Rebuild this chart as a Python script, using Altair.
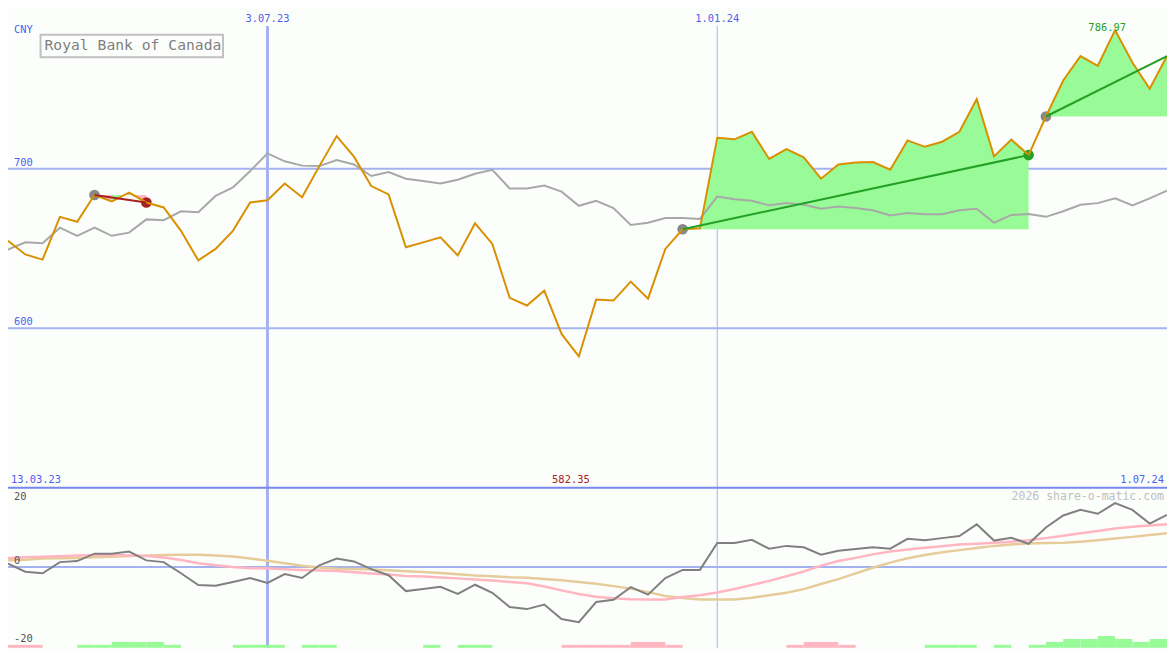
import altair as alt
import pandas as pd

W, H = 1167, 642
SX, SY = W / 1175, H / 650

currency = "CNY"
company = "Royal Bank of Canada"
watermark = "2026 share-o-matic.com"
first_week = "2023-03-20"
n_weeks = 68
dates = pd.date_range(first_week, periods=n_weeks, freq="7D").strftime("%Y-%m-%dT00:00:00").tolist()

price = [654.9, 646.3, 643.1, 669.9, 666.8, 683.6, 679.5, 685.1, 678.9, 675.8,
         661.1, 642.6, 649.8, 661.1, 678.9, 680.3, 690.8, 682.2, 701.7, 720.5,
         707.6, 689.2, 684.0, 650.8, 653.9, 657.0, 645.7, 665.8, 652.9, 619.1,
         614.3, 623.6, 596.5, 582.35, 618.0, 617.4, 629.3, 618.6, 649.8, 662.1,
         662.7, 719.5, 718.5, 723.2, 706.2, 712.3, 707.2, 693.8, 702.7, 703.9,
         704.2, 699.4, 717.8, 713.8, 717.0, 723.2, 743.7, 707.8, 718.3, 708.6,
         732.8, 755.4, 770.7, 764.6, 786.97, 766.7, 750.2, 770.7]

compare = [649.4, 653.9, 653.3, 663.1, 658.0, 663.1, 658.0, 660.0, 668.3, 667.8,
           673.4, 672.8, 683.0, 688.3, 698.6, 709.7, 704.7, 702.0, 701.7, 705.5,
           702.7, 695.5, 698.0, 693.8, 692.4, 690.8, 693.2, 696.9, 699.4, 687.7,
           687.7, 689.5, 685.7, 676.8, 680.0, 675.4, 664.8, 666.2, 669.2, 669.2,
           668.6, 682.6, 680.9, 680.0, 677.1, 678.5, 677.5, 675.0, 676.4, 675.4,
           674.0, 670.7, 672.3, 671.5, 671.5, 674.0, 675.0, 666.2, 671.1, 671.7,
           669.9, 673.4, 677.5, 678.5, 681.5, 677.1, 681.5, 686.3]

momentum = [1.0, -1.3, -1.75, 1.4, 1.7, 3.8, 3.8, 4.4, 1.9, 1.4,
            -1.75, -5.1, -5.3, -4.2, -3.1, -4.5, -2.0, -3.1, 0.5, 2.4,
            1.6, -0.6, -2.3, -6.8, -6.2, -5.6, -7.6, -5.0, -7.3, -11.3,
            -11.9, -10.6, -14.7, -15.6, -9.9, -9.25, -5.7, -7.8, -3.1, -0.8,
            -0.8, 6.8, 6.8, 7.7, 5.2, 6.0, 5.6, 3.5, 4.6, 5.1,
            5.6, 5.2, 8.0, 7.6, 8.2, 8.8, 12.1, 7.5, 8.3, 6.6,
            11.2, 14.6, 16.2, 15.1, 18.1, 16.2, 12.3, 14.8]

ma_fast = [2.6, 2.75, 2.9, 3.1, 3.3, 3.4, 3.5, 3.3, 3.1, 2.7,
           2.0, 1.1, 0.5, 0.0, -0.3, -0.4, -0.6, -0.8, -1.0, -1.1,
           -1.45, -1.8, -2.1, -2.5, -2.7, -2.95, -3.2, -3.5, -3.8, -4.2,
           -4.6, -5.5, -6.6, -7.6, -8.4, -8.8, -9.1, -9.2, -9.2, -8.5,
           -8.0, -7.2, -6.2, -5.1, -3.9, -2.6, -1.25, 0.4, 1.7, 2.6,
           3.6, 4.4, 5.0, 5.5, 5.9, 6.4, 6.6, 6.9, 7.2, 7.6,
           8.2, 8.9, 9.6, 10.2, 10.9, 11.4, 11.75, 12.1]

ma_slow = [1.9, 2.1, 2.4, 2.5, 2.6, 2.8, 2.9, 3.1, 3.3, 3.4,
           3.5, 3.5, 3.3, 3.0, 2.4, 1.8, 1.1, 0.4, -0.1, -0.45,
           -0.55, -0.7, -0.9, -1.2, -1.4, -1.7, -2.05, -2.4, -2.6, -2.9,
           -3.05, -3.4, -3.75, -4.2, -4.7, -5.4, -6.1, -7.1, -8.2, -8.75,
           -9.2, -9.2, -9.2, -8.7, -8.0, -7.25, -6.25, -4.8, -3.4, -1.8,
           -0.2, 1.25, 2.5, 3.4, 4.2, 4.8, 5.4, 6.0, 6.4, 6.7,
           6.8, 6.9, 7.2, 7.6, 8.1, 8.55, 9.1, 9.55]

# weekly signal strength between consecutive weeks (+ green, - pink)
signal = [-1, -1, 0, 0, 1, 1, 2, 2, 2, 1,
          0, 0, 0, 1, 1, 1, 0, 1, 1, 0,
          0, 0, 0, 0, 1, 0, 1, 1, 0, 0,
          0, 0, -1, -1, -1, -1, -2, -2, -1, 0,
          0, 0, 0, 0, 0, -1, -2, -2, -1, 0,
          0, 0, 0, 1, 1, 1, 0, 1, 0, 1,
          2, 3, 3, 4, 3, 2, 3]

price_grid = [600, 700]
panel_floor = [500]
osc_zero = [0]
osc_labels = [20, -20]
grid_dates = ["2023-07-03T00:00:00", "2024-01-01T00:00:00"]
grid_date_labels = ["3.07.23", "1.01.24"]
range_labels = ["13.03.23", "1.07.24"]

# trend segments: (start week, end week, direction)
trends = [(5, 8, "down"), (39, 59, "up"), (60, 67, "up")]
# shaded spans: (start, end, baseline week, direction)
fills = [(5, 6, 5, "down"), (6, 7, 5, "up"), (7, 8, 5, "down"),
         (39, 59, 39, "up"), (60, 67, 60, "up")]
# markers: (week, kind)
markers = [(5, "start"), (8, "down"), (39, "start"), (59, "up"), (60, "start")]

BG = "#fcfefc"
GRID = "#a4b2f0"
SEP = "#7888ec"
LABEL = "#4f5ff0"
ORANGE = "#d99000"
GRAYL = "#a8a8a8"
MOM = "#808080"
PINK = "#ffb6c1"
TAN = "#e6cc9a"
PALE = "#98fb98"
TGREEN = "#24a024"
DRED = "#a82020"
FONT = "DejaVu Sans Mono"
FS = 10.5

xs = alt.Scale(domain=[alt.DateTime(year=2023, month=3, date=20),
                       alt.DateTime(year=2024, month=7, date=1)])
X = alt.X("date:T", scale=xs, axis=None)
TOP = alt.Scale(domain=[399.7, 799.45], nice=False, zero=False)
OSC = alt.Scale(domain=[-22.86, 157.7], nice=False, zero=False)
BAR = alt.Scale(domain=[0, 216.67], nice=False, zero=False)
FILLC = alt.Scale(domain=["up", "down"], range=[PALE, PINK])
TRENDC = alt.Scale(domain=["up", "down"], range=[TGREEN, DRED])
DOTC = alt.Scale(domain=["start", "up", "down"], range=["#888888", TGREEN, DRED])

df = pd.DataFrame({"date": dates, "price": price, "compare": compare,
                   "momentum": momentum, "ma_fast": ma_fast, "ma_slow": ma_slow})

layers = []

# grid
layers.append(alt.Chart(pd.DataFrame({"v": price_grid})).mark_rule(color=GRID, strokeWidth=2)
              .encode(y=alt.Y("v:Q", scale=TOP, axis=None)))
layers.append(alt.Chart(pd.DataFrame({"v": osc_zero})).mark_rule(color=GRID, strokeWidth=2)
              .encode(y=alt.Y("v:Q", scale=OSC, axis=None)))
for d, sw in zip(grid_dates, [3, 1]):
    layers.append(alt.Chart(pd.DataFrame({"date": [d]})).mark_rule(color=GRID, strokeWidth=sw)
                  .encode(x=X, y=alt.value(16 * SY), y2=alt.value(H)))
layers.append(alt.Chart(pd.DataFrame({"v": panel_floor})).mark_rule(color=SEP, strokeWidth=2)
              .encode(y=alt.Y("v:Q", scale=TOP, axis=None)))

# signal bars
bdf = pd.DataFrame({"d0": dates[:-1], "d1": dates[1:], "s": signal})
bdf = bdf[bdf.s != 0].copy()
bdf["lvl"] = bdf.s.abs()
bdf["kind"] = ["up" if s > 0 else "down" for s in bdf.s]
layers.append(alt.Chart(bdf).mark_rect().encode(
    x=alt.X("d0:T", scale=xs, axis=None), x2="d1:T",
    y=alt.Y("lvl:Q", scale=BAR, axis=None), y2=alt.datum(0),
    color=alt.Color("kind:N", scale=FILLC, legend=None)))

# oscillator lines
layers.append(alt.Chart(df).mark_line(color=TAN, strokeWidth=2.5)
              .encode(x=X, y=alt.Y("ma_slow:Q", scale=OSC, axis=None)))
layers.append(alt.Chart(df).mark_line(color=PINK, strokeWidth=2.5)
              .encode(x=X, y=alt.Y("ma_fast:Q", scale=OSC, axis=None)))
layers.append(alt.Chart(df).mark_line(color=MOM, strokeWidth=2)
              .encode(x=X, y=alt.Y("momentum:Q", scale=OSC, axis=None)))

# shaded spans
for a, b, base, kind in fills:
    fdf = pd.DataFrame({"date": dates[a:b + 1], "price": price[a:b + 1],
                        "base": [price[base]] * (b - a + 1), "kind": [kind] * (b - a + 1)})
    layers.append(alt.Chart(fdf).mark_area(opacity=1).encode(
        x=X, y=alt.Y("price:Q", scale=TOP, axis=None), y2="base:Q",
        color=alt.Color("kind:N", scale=FILLC, legend=None)))

# comparison line
layers.append(alt.Chart(df).mark_line(color=GRAYL, strokeWidth=2)
              .encode(x=X, y=alt.Y("compare:Q", scale=TOP, axis=None)))

# markers
mdf = pd.DataFrame({"date": [dates[i] for i, _ in markers],
                    "price": [price[i] for i, _ in markers],
                    "kind": [k for _, k in markers]})
layers.append(alt.Chart(mdf).mark_circle(size=115, opacity=1).encode(
    x=X, y=alt.Y("price:Q", scale=TOP, axis=None),
    color=alt.Color("kind:N", scale=DOTC, legend=None)))

# price line
layers.append(alt.Chart(df).mark_line(color=ORANGE, strokeWidth=2)
              .encode(x=X, y=alt.Y("price:Q", scale=TOP, axis=None)))

# trend lines
rows = []
for s, (a, b, kind) in enumerate(trends):
    for i in (a, b):
        rows.append({"date": dates[i], "price": price[i], "seg": s, "kind": kind})
layers.append(alt.Chart(pd.DataFrame(rows)).mark_line(strokeWidth=2).encode(
    x=X, y=alt.Y("price:Q", scale=TOP, axis=None), detail="seg:N",
    color=alt.Color("kind:N", scale=TRENDC, legend=None)))

# texts
layers.append(alt.Chart(pd.DataFrame({"v": price_grid, "t": [str(v) for v in price_grid]})).mark_text(
    align="left", baseline="bottom", dy=-1, font=FONT, fontSize=FS, color=LABEL).encode(
    x=alt.value(6 * SX), y=alt.Y("v:Q", scale=TOP, axis=None), text="t:N"))
layers.append(alt.Chart(pd.DataFrame({"date": grid_dates, "t": grid_date_labels})).mark_text(
    align="center", baseline="middle", font=FONT, fontSize=FS, color=LABEL).encode(
    x=X, y=alt.value(9 * SY), text="t:N"))
layers.append(alt.Chart(pd.DataFrame({"t": [range_labels[0]]})).mark_text(
    align="left", baseline="middle", font=FONT, fontSize=FS, color=LABEL).encode(
    x=alt.value(3 * SX), y=alt.value(479 * SY), text="t:N"))
layers.append(alt.Chart(pd.DataFrame({"date": [dates[-1]], "t": [range_labels[1]]})).mark_text(
    align="right", baseline="middle", dx=-3, font=FONT, fontSize=FS, color=LABEL).encode(
    x=X, y=alt.value(479 * SY), text="t:N"))
layers.append(alt.Chart(pd.DataFrame({"t": [currency]})).mark_text(
    align="left", baseline="middle", font=FONT, fontSize=FS, color=LABEL).encode(
    x=alt.value(6 * SX), y=alt.value(20 * SY), text="t:N"))

imin = price.index(min(price))
imax = price.index(max(price))
layers.append(alt.Chart(pd.DataFrame({"date": [dates[imin]], "price": [price[imin]]})).mark_text(
    align="center", baseline="middle", dx=-8, font=FONT, fontSize=FS, color=DRED).encode(
    x=X, y=alt.value(479 * SY), text=alt.Text("price:Q", format=".2f")))
layers.append(alt.Chart(pd.DataFrame({"date": [dates[imax]], "price": [price[imax]]})).mark_text(
    align="center", baseline="middle", dx=-8, dy=-2, font=FONT, fontSize=FS, color=TGREEN).encode(
    x=X, y=alt.Y("price:Q", scale=TOP, axis=None), text=alt.Text("price:Q", format=".2f")))

layers.append(alt.Chart(pd.DataFrame({"v": osc_labels, "t": [str(v) for v in osc_labels]})).mark_text(
    align="left", baseline="middle", dy=1, font=FONT, fontSize=FS, color="#555555").encode(
    x=alt.value(6 * SX), y=alt.Y("v:Q", scale=OSC, axis=None), text="t:N"))
layers.append(alt.Chart(pd.DataFrame({"v": osc_zero, "t": [str(v) for v in osc_zero]})).mark_text(
    align="left", baseline="middle", dy=-6, font=FONT, fontSize=FS, color="#555555").encode(
    x=alt.value(6 * SX), y=alt.Y("v:Q", scale=OSC, axis=None), text="t:N"))
layers.append(alt.Chart(pd.DataFrame({"t": [watermark]})).mark_text(
    align="right", baseline="middle", font=FONT, fontSize=11.6, color="#c0c0c0").encode(
    x=alt.value(1172 * SX), y=alt.value(496 * SY), text="t:N"))

# title box
layers.append(alt.Chart(pd.DataFrame({"t": [company]})).mark_rect(
    fill=BG, stroke="#c0c0c0", strokeWidth=2).encode(
    x=alt.value(33 * SX), x2=alt.value(218 * SX), y=alt.value(25 * SY), y2=alt.value(48 * SY)))
layers.append(alt.Chart(pd.DataFrame({"t": [company]})).mark_text(
    align="left", baseline="middle", font=FONT, fontSize=14.8, color="#808080").encode(
    x=alt.value(37 * SX), y=alt.value(36.5 * SY), text="t:N"))

chart = (alt.layer(*layers)
         .resolve_scale(y="independent", color="independent")
         .properties(width=W, height=H, padding=0, background=BG,
                     autosize=alt.AutoSizeParams(type="none"))
         .configure_view(strokeWidth=0))

chart.save("out.html", embed_options={"renderer": "svg", "actions": False})
